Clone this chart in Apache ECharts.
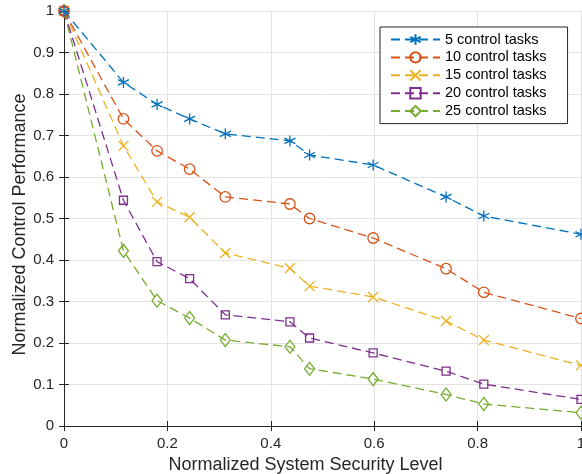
<!DOCTYPE html>
<html>
<head>
    <meta charset="utf-8">
    <title>Control performance vs security level</title>
    <script src="https://cdn.jsdelivr.net/npm/echarts/dist/echarts.min.js"></script>
    <style>
        html, body { margin: 0; padding: 0; background: #fff; }
        #main { width: 582px; height: 474px; }
    </style>
</head>
<body>
    <div id="main"></div>

    <script type="text/javascript">
        // data
        var securityLevel = [0, 0.115, 0.18, 0.243, 0.312, 0.437, 0.475, 0.598, 0.739, 0.812, 1];
        var tasks5  = [1, 0.828, 0.775, 0.740, 0.704, 0.687, 0.653, 0.629, 0.552, 0.506, 0.462];
        var tasks10 = [1, 0.740, 0.663, 0.619, 0.552, 0.535, 0.500, 0.453, 0.379, 0.322, 0.259];
        var tasks15 = [1, 0.675, 0.540, 0.503, 0.417, 0.380, 0.337, 0.311, 0.253, 0.207, 0.146];
        var tasks20 = [1, 0.544, 0.396, 0.355, 0.268, 0.251, 0.212, 0.176, 0.132, 0.101, 0.064];
        var tasks25 = [1, 0.422, 0.302, 0.260, 0.207, 0.191, 0.138, 0.113, 0.076, 0.053, 0.032];
        var seriesNames = ['5 control tasks', '10 control tasks', '15 control tasks', '20 control tasks', '25 control tasks'];

        var colors = ['#0072BD', '#D95319', '#EDB120', '#7E2F8E', '#77AC30'];
        var font = '"Liberation Sans", Arial, Helvetica, sans-serif';
        var ink = '#262626';

        // matlab style markers
        var markers = [
            'path://M10,0L10,20M1.34,5L18.66,15M1.34,15L18.66,5',
            'path://M20,10A10,10,0,1,1,0,10A10,10,0,1,1,20,10Z',
            'path://M0,0L20,20M0,20L20,0',
            'path://M0,0L20,0L20,20L0,20Z',
            'path://M10,0L20,10L10,20L0,10Z'
        ];
        var markerSizes = [11, 10.5, 10, 8, [10, 13]];

        function pairs(ys) {
            var out = [];
            for (var i = 0; i < securityLevel.length; i++) {
                out.push([securityLevel[i], ys[i]]);
            }
            return out;
        }

        var allData = [tasks5, tasks10, tasks15, tasks20, tasks25];
        var series = [];
        for (var k = 0; k < allData.length; k++) {
            series.push({
                name: seriesNames[k],
                type: 'line',
                data: pairs(allData[k]),
                symbol: markers[k],
                symbolSize: markerSizes[k],
                showAllSymbol: true,
                lineStyle: { color: colors[k], width: 1.3, type: [9, 5] },
                itemStyle: { color: 'transparent', borderColor: colors[k], borderWidth: 1.3 },
                emphasis: { disabled: true },
                z: 10 - k
            });
        }

        function fmt(v) {
            return String(+v.toFixed(1));
        }

        var myChart = echarts.init(document.getElementById('main'));

        var axisLine = { show: true, lineStyle: { color: ink, width: 1 } };
        var axisTick = { show: true, inside: true, length: 5, lineStyle: { color: ink } };

        myChart.setOption({
            animation: false,
            color: colors,
            grid: { left: 64, right: 1, top: 11, bottom: 48, outerBoundsMode: 'none', containLabel: false },
            legend: {
                orient: 'vertical',
                left: 380,
                top: 27,
                itemWidth: 49,
                itemHeight: 13,
                itemGap: 2.9,
                padding: [5, 21, 5, 10],
                borderColor: ink,
                borderWidth: 1,
                backgroundColor: '#fff',
                textStyle: { fontFamily: font, fontSize: 14.5, color: '#000' },
                data: seriesNames
            },
            xAxis: [{
                type: 'value',
                position: 'bottom',
                min: 0, max: 1, interval: 0.2,
                name: 'Normalized System Security Level',
                nameLocation: 'middle',
                nameGap: 28,
                nameTextStyle: { fontFamily: font, fontSize: 18, color: ink, padding: [0, 34, 0, 0] },
                axisLine: axisLine,
                axisTick: axisTick,
                axisLabel: { fontFamily: font, fontSize: 15, color: ink, margin: 10, formatter: fmt },
                splitLine: { show: true, lineStyle: { color: '#e3e3e3', width: 1 } }
            }, {
                type: 'value',
                position: 'top',
                min: 0, max: 1, interval: 0.2,
                axisLine: axisLine,
                axisTick: axisTick,
                axisLabel: { show: false },
                splitLine: { show: false }
            }],
            yAxis: [{
                type: 'value',
                position: 'left',
                min: 0, max: 1, interval: 0.1,
                name: 'Normalized Control Performance',
                nameLocation: 'middle',
                nameGap: 35,
                nameMoveOverlap: false,
                nameTextStyle: { fontFamily: font, fontSize: 18, color: ink, padding: [0, 12, 0, 0] },
                axisLine: axisLine,
                axisTick: axisTick,
                axisLabel: { fontFamily: font, fontSize: 15, color: ink, margin: 10, formatter: fmt },
                splitLine: { show: true, lineStyle: { color: '#e3e3e3', width: 1 } }
            }, {
                type: 'value',
                position: 'right',
                min: 0, max: 1, interval: 0.1,
                axisLine: axisLine,
                axisTick: axisTick,
                axisLabel: { show: false },
                splitLine: { show: false }
            }],
            series: series
        });
    </script>
</body>
</html>
